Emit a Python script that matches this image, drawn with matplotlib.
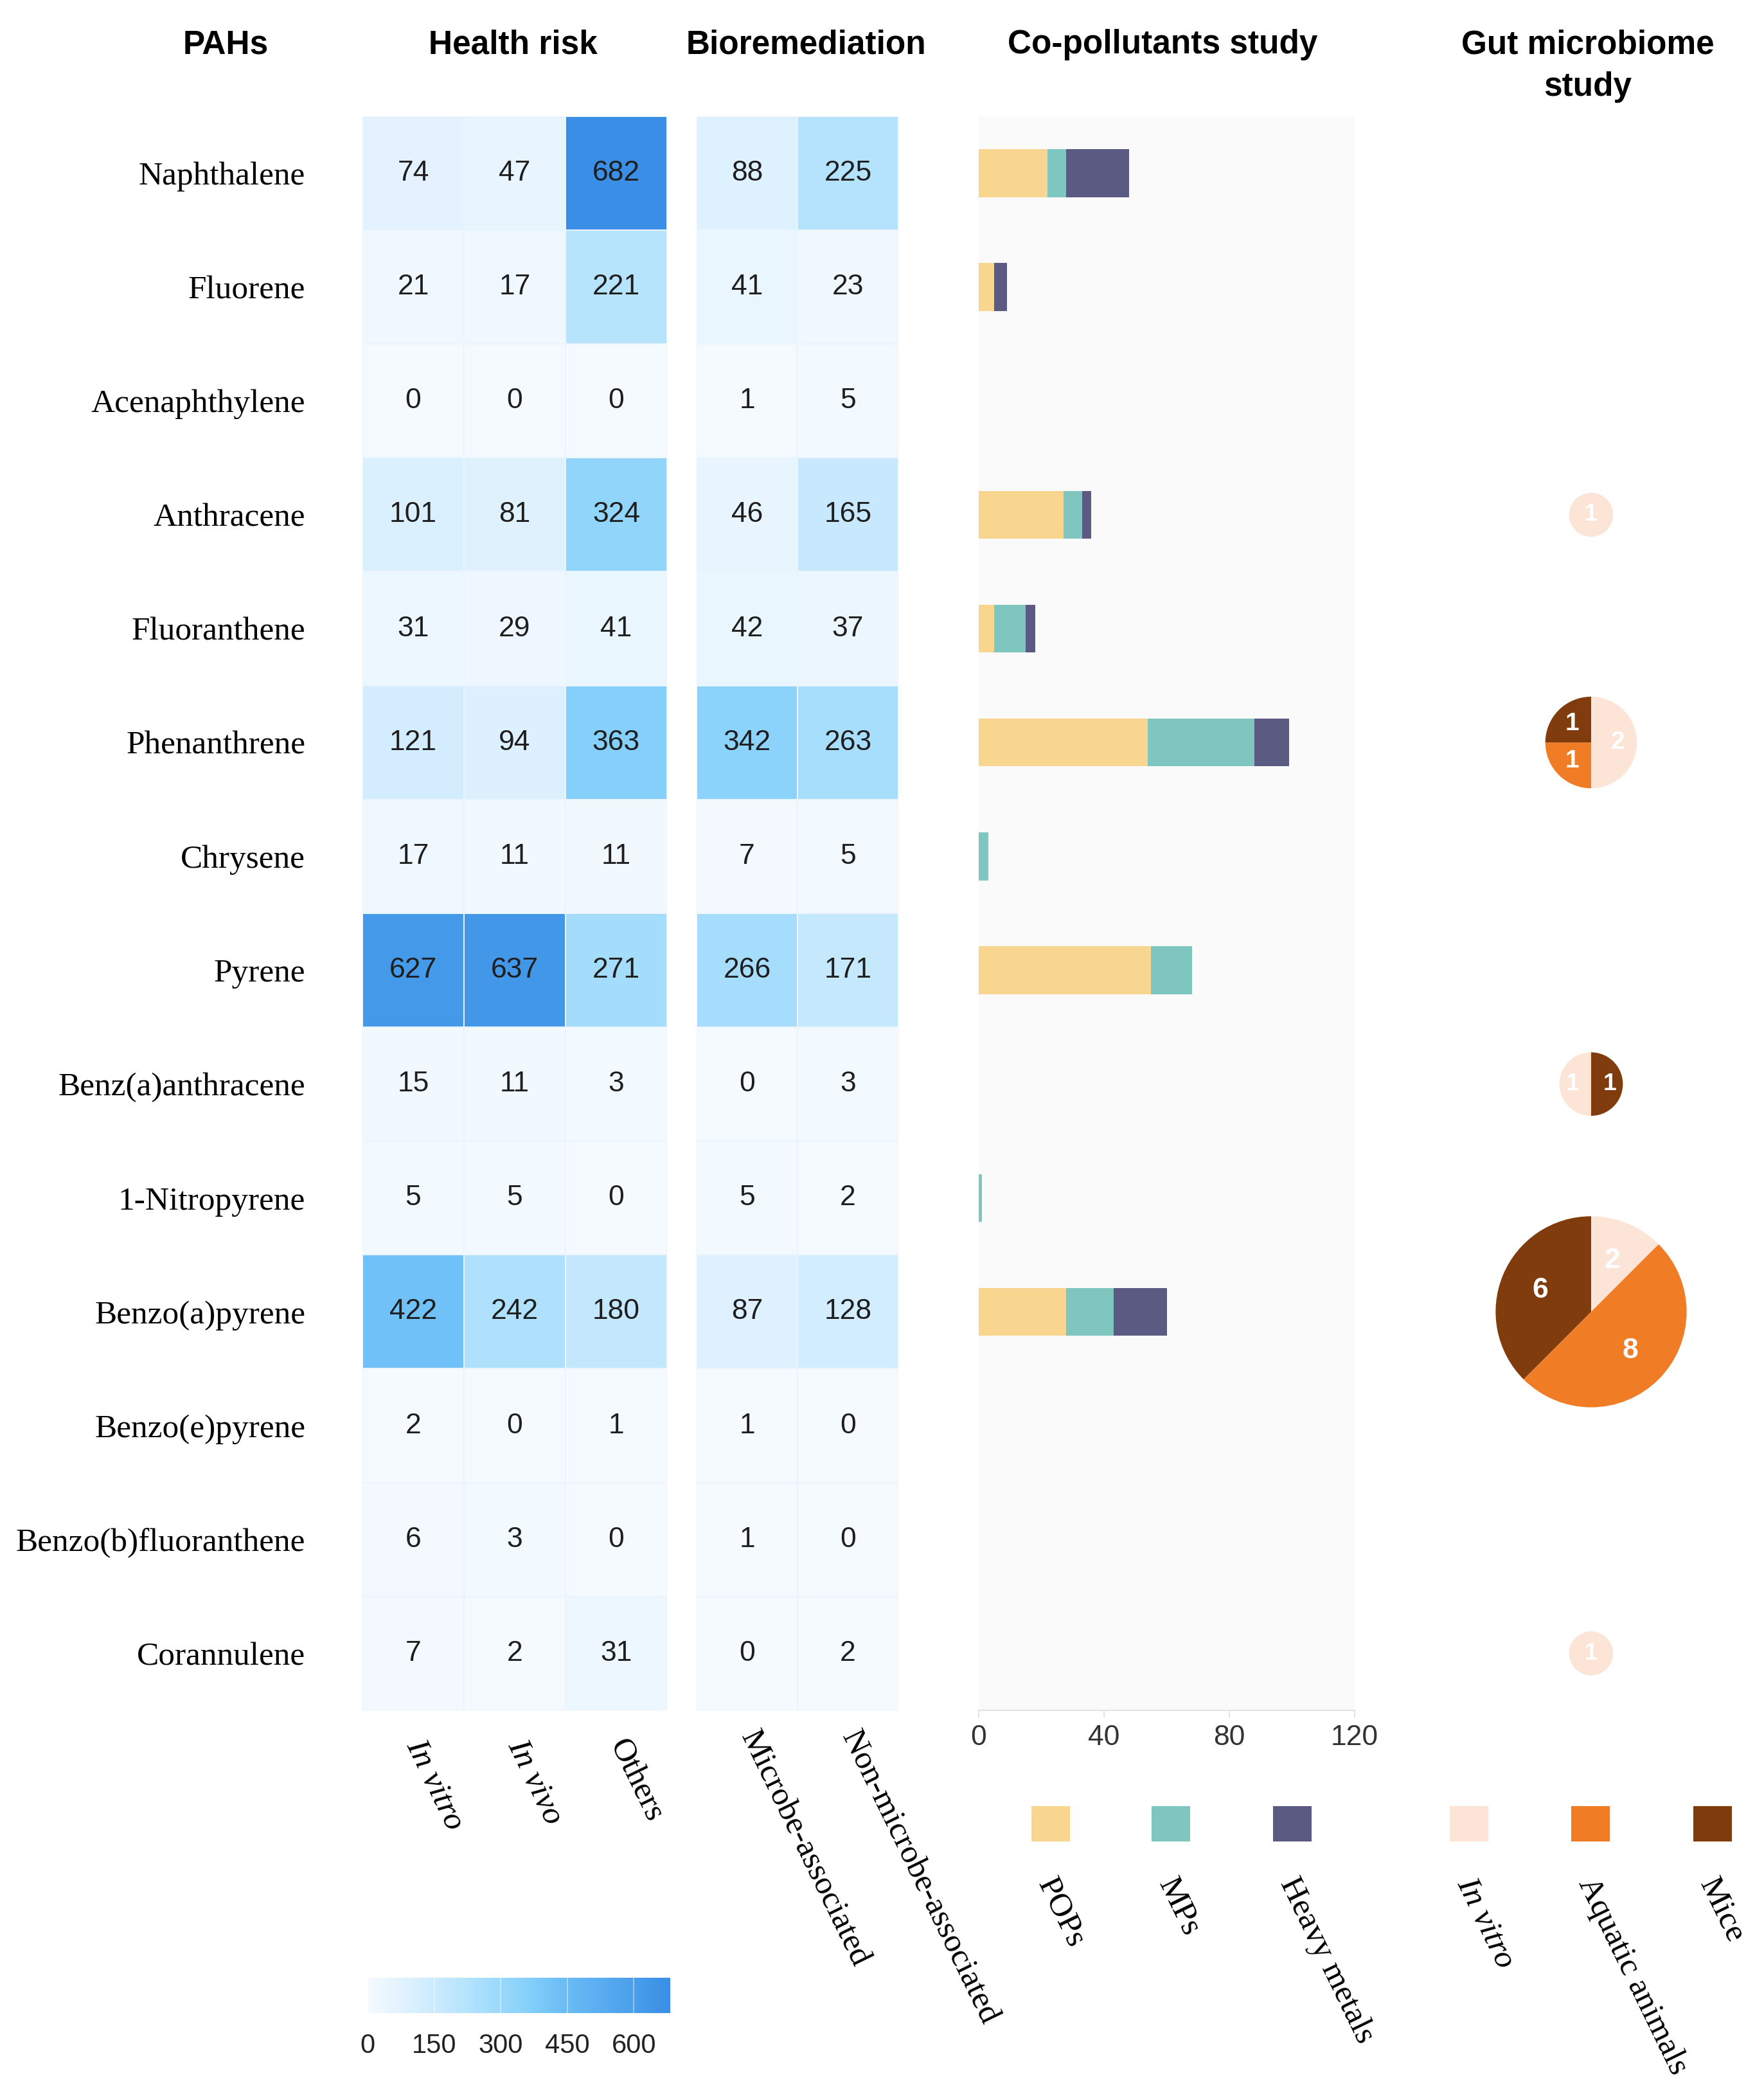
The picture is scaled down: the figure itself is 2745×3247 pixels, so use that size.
import numpy as np
import matplotlib
matplotlib.use("Agg")
import matplotlib.pyplot as plt
from matplotlib.colors import LinearSegmentedColormap, Normalize
from matplotlib.cm import ScalarMappable
from matplotlib.patches import Rectangle

plt.rcParams['font.family'] = ['Liberation Sans', 'DejaVu Sans']

# ---- data ----
pahs = ["Naphthalene", "Fluorene", "Acenaphthylene", "Anthracene", "Fluoranthene",
        "Phenanthrene", "Chrysene", "Pyrene", "Benz(a)anthracene", "1-Nitropyrene",
        "Benzo(a)pyrene", "Benzo(e)pyrene", "Benzo(b)fluoranthene", "Corannulene"]

health_cols = ["In vitro", "In vivo", "Others"]
health_in_vitro = [74, 21, 0, 101, 31, 121, 17, 627, 15, 5, 422, 2, 6, 7]
health_in_vivo = [47, 17, 0, 81, 29, 94, 11, 637, 11, 5, 242, 0, 3, 2]
health_others = [682, 221, 0, 324, 41, 363, 11, 271, 3, 0, 180, 1, 0, 31]

bio_cols = ["Microbe-associated", "Non-microbe-associated"]
bio_microbe = [88, 41, 1, 46, 42, 342, 7, 266, 0, 5, 87, 1, 1, 0]
bio_non_microbe = [225, 23, 5, 165, 37, 263, 5, 171, 3, 2, 128, 0, 0, 2]

co_names = ["POPs", "MPs", "Heavy metals"]
co_pops = [22, 5, 0, 27, 5, 54, 0, 55, 0, 0, 28, 0, 0, 0]
co_mps = [6, 0, 0, 6, 10, 34, 3, 13, 0, 1, 15, 0, 0, 0]
co_metals = [20, 4, 0, 3, 3, 11, 0, 0, 0, 0, 17, 0, 0, 0]

gut_names = ["In vitro", "Aquatic animals", "Mice"]
gut_in_vitro = [0, 0, 0, 1, 0, 2, 0, 0, 1, 0, 2, 0, 0, 1]
gut_aquatic = [0, 0, 0, 0, 0, 1, 0, 0, 0, 0, 8, 0, 0, 0]
gut_mice = [0, 0, 0, 0, 0, 1, 0, 0, 1, 0, 6, 0, 0, 0]

cbar_ticks = [0, 150, 300, 450, 600]
bar_ticks = [0, 40, 80, 120]

# ---- styles ----
co_colors = ["#f9d690", "#80c6c0", "#5a5a82"]
gut_colors = ["#fce4d6", "#f17c26", "#813c0d"]
heat_cmap = LinearSegmentedColormap.from_list("pah_blue", [
    (0.0, "#f4faff"), (0.11, "#e2f2fe"), (0.33, "#b5e3fd"), (0.40, "#a3dcfc"),
    (0.53, "#86d0fb"), (0.62, "#70c1f7"), (0.92, "#4499e9"), (1.0, "#3a8ee6")])
norm = Normalize(vmin=0, vmax=682)
serif = "Liberation Serif"
label_fs = 37
num_fs = 32

n = len(pahs)
fig = plt.figure(figsize=(27.45, 32.47), dpi=100)

bottom, top = 0.1805, 0.9443
height = top - bottom


def draw_heat(ax, columns, names, pad):
    data = np.array(columns).T
    ax.pcolormesh(data, cmap=heat_cmap, norm=norm, edgecolors="#eaf4fc", linewidth=1.2)
    ax.set_xlim(0, data.shape[1])
    ax.set_ylim(n, 0)
    for s in ax.spines.values():
        s.set_visible(False)
    for i in range(data.shape[0]):
        for j in range(data.shape[1]):
            ax.text(j + 0.5, i + 0.5, str(data[i, j]), ha="center", va="center",
                    fontsize=num_fs, color="#1e1e1e")
    ax.set_xticks(np.arange(data.shape[1]) + 0.5)
    ax.set_xticklabels(names, rotation=-64, ha="left", va="center",
                       rotation_mode="anchor", family=serif, fontsize=label_fs)
    for lab in ax.get_xticklabels():
        if lab.get_text().startswith("In "):
            lab.set_style("italic")
    ax.tick_params(axis="x", length=0, pad=pad)


# health risk heatmap
ax_h = fig.add_axes([0.2055, bottom, 0.1726, height])
draw_heat(ax_h, [health_in_vitro, health_in_vivo, health_others], health_cols, 35)
ax_h.set_yticks(np.arange(n) + 0.5)
ax_h.set_yticklabels(pahs, family=serif, fontsize=label_fs)
ax_h.tick_params(axis="y", length=0, pad=64)

# bioremediation heatmap
ax_b = fig.add_axes([0.3949, bottom, 0.1144, height])
draw_heat(ax_b, [bio_microbe, bio_non_microbe], bio_cols, 25)
ax_b.set_yticks([])

# co-pollutants stacked bars
ax_c = fig.add_axes([0.5548, bottom, 0.2132, height])
ax_c.set_facecolor("#fafafa")
y = np.arange(n) + 0.5
left = np.zeros(n)
for vals, col in zip([co_pops, co_mps, co_metals], co_colors):
    ax_c.barh(y, vals, left=left, height=0.42, color=col, linewidth=0)
    left = left + np.array(vals)
ax_c.set_xlim(0, 120)
ax_c.set_ylim(n, 0)
ax_c.set_yticks([])
ax_c.set_xticks(bar_ticks)
for s in ["left", "top", "right"]:
    ax_c.spines[s].set_visible(False)
ax_c.spines["bottom"].set_color("#e3e3e3")
ax_c.spines["bottom"].set_linewidth(1.5)
ax_c.tick_params(axis="x", length=8, width=1.5, color="#e3e3e3", labelcolor="#333333",
                 labelsize=32, pad=8)

# gut microbiome pies
ax_p = fig.add_axes([0.81, bottom, 0.184, height])
w_units = 0.184 * 27.45 / (height * 32.47 / n)
cx = w_units / 2
pie_start = {"Benz(a)anthracene": 270}
for i, name in enumerate(pahs):
    vals = [gut_in_vitro[i], gut_aquatic[i], gut_mice[i]]
    total = sum(vals)
    if total == 0:
        continue
    cy = n - 0.5 - i
    r = 0.193 * total ** 0.53
    parts = [(v, c) for v, c in zip(vals, gut_colors) if v > 0]
    wedges, _ = ax_p.pie([v for v, _ in parts], colors=[c for _, c in parts], radius=r,
                         center=(cx, cy), startangle=pie_start.get(name, 90),
                         counterclock=False, frame=True, wedgeprops=dict(linewidth=0))
    fs = 24 + 2 * np.sqrt(total)
    for w, (v, _) in zip(wedges, parts):
        if len(parts) == 1:
            tx, ty = cx, cy
        else:
            mid = np.deg2rad((w.theta1 + w.theta2) / 2)
            tx, ty = cx + 0.58 * r * np.cos(mid), cy + 0.58 * r * np.sin(mid)
        ax_p.text(tx, ty, str(v), ha="center", va="center", color="white",
                  fontsize=fs, fontweight="bold")
ax_p.set_xlim(0, w_units)
ax_p.set_ylim(0, n)
ax_p.set_aspect("equal", adjustable="datalim")
ax_p.axis("off")

# column titles
title_y = 0.9785
for tx, txt in [(0.128, "PAHs"), (0.291, "Health risk"), (0.457, "Bioremediation"),
                (0.659, "Co-pollutants study"), (0.9, "Gut microbiome")]:
    fig.text(tx, title_y, txt, ha="center", va="center", fontsize=37, fontweight="bold")
fig.text(0.9, 0.9582, "study", ha="center", va="center", fontsize=37, fontweight="bold")

# legend squares + rotated labels
leg_x = [0.5955, 0.6637, 0.7326, 0.8328, 0.9016, 0.9707]
leg_names = co_names + gut_names
leg_colors = co_colors + gut_colors
sq_w, sq_h, sq_y = 0.0219, 0.0169, 0.1262
for lx, name, col in zip(leg_x, leg_names, leg_colors):
    fig.add_artist(Rectangle((lx - sq_w / 2, sq_y - sq_h / 2), sq_w, sq_h,
                             transform=fig.transFigure, color=col, linewidth=0))
    fig.text(lx - 0.003, 0.0995, name, rotation=-64, ha="left", va="center",
             rotation_mode="anchor", family=serif, fontsize=label_fs,
             style="italic" if name == "In vitro" else "normal")

# colorbar
cax = fig.add_axes([0.2084, 0.0354, 0.1716, 0.0169])
cb = fig.colorbar(ScalarMappable(norm=norm, cmap=heat_cmap), cax=cax,
                  orientation="horizontal", ticks=cbar_ticks)
cb.outline.set_visible(False)
for t in cbar_ticks[1:]:
    cax.axvline(t, color="white", linewidth=1.2, alpha=0.5)
cax.tick_params(length=0, labelsize=30, pad=22, labelcolor="#222222")

fig.savefig("out.png", dpi=100)
